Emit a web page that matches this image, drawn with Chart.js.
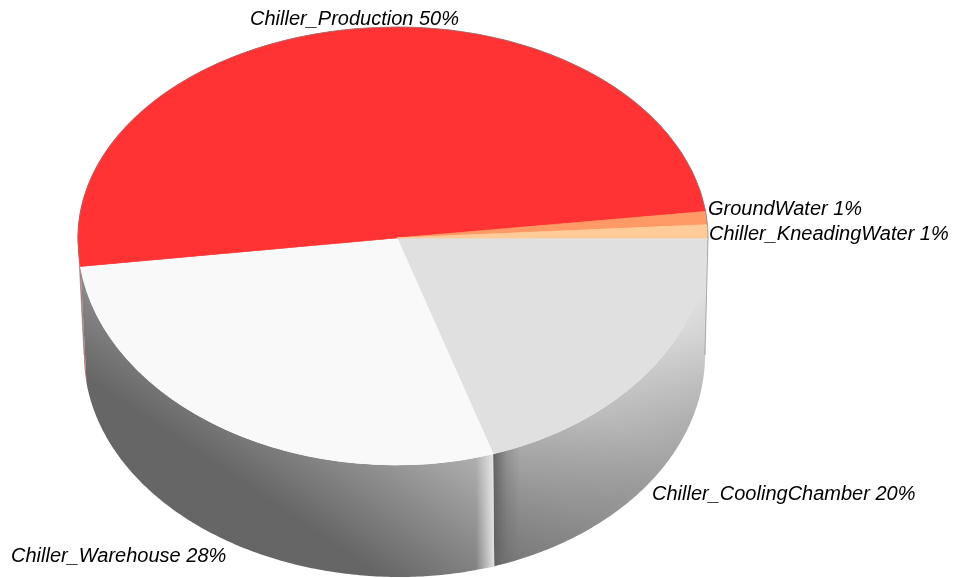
<!DOCTYPE html>
<html>
<head>
<meta charset="utf-8">
<style>
  html, body { margin: 0; background: #fff; }
  #grafica { display: block; }
</style>
<script src="https://cdn.jsdelivr.net/npm/chart.js@4"></script>
</head>
<body>
<canvas id="grafica" width="954" height="578"></canvas>
<script>
// Slices run clockwise starting from the right-hand edge of the disc
const categories = ['Chiller_CoolingChamber', 'Chiller_Warehouse', 'Chiller_Production', 'GroundWater', 'Chiller_KneadingWater'];
const shares = [20, 28, 50, 1, 1];
const sliceColors = ['#e0e0e0', '#f9f9f9', '#ff3333', '#ff9966', '#ffcc99'];

// x, baseline y of each label, same order as categories
const labelSpots = [[652, 500], [11, 562], [250, 25], [708, 215], [709, 240]];

// Disc outline. The apex is off-centre, so each side has its own half axis
const RADIUS = 315;
const top3d = { x: 397, y: 238, left: 319, right: 311, up: 211, down: 227 };
const base3d = { x: 400, y: 355, left: 316, right: 305, down: 222 };

function rimPoint(e, a) {
  const c = Math.cos(a);
  return [e.x + (c >= 0 ? e.right : e.left) * c, e.y + e.down * Math.sin(a)];
}

function linear(ctx, x0, y0, x1, y1, stops) {
  const g = ctx.createLinearGradient(x0, y0, x1, y1);
  stops.forEach(s => g.addColorStop(s[0], s[1]));
  return g;
}

// Side wall shading for each slice (only lower-half slices are visible)
const wallFills = [
  ctx => [
    linear(ctx, 510, 570, 675, 321, [[0, '#7c7c7c'], [0.3, '#a6a6a6'], [0.6, '#c8c8c8'], [1, '#e0e0e0']]),
    linear(ctx, 494, 0, 520, 0, [[0, 'rgba(80,80,80,0.75)'], [0.5, 'rgba(90,90,90,0.25)'], [1, 'rgba(90,90,90,0)']]),
    linear(ctx, 645, 335, 712, 430, [[0, 'rgba(110,110,110,0)'], [1, 'rgba(110,110,110,0.4)']])
  ],
  ctx => [
    linear(ctx, 290, 514, 378, 383, [[0, '#666666'], [1, '#b2b2b2']]),
    linear(ctx, 476, 0, 494, 0, [[0, 'rgba(240,240,240,0)'], [1, 'rgba(240,240,240,0.85)']])
  ],
  () => ['rgba(176,60,70,0.7)']
];

function drawWall(ctx, arc, fills) {
  const from = Math.max(arc.startAngle, 0);
  const to = Math.min(arc.endAngle, Math.PI);
  if (to <= from) return;
  const steps = Math.ceil((to - from) * 90);
  ctx.beginPath();
  for (let i = 0; i <= steps; i++) {
    const p = rimPoint(top3d, from + (to - from) * i / steps);
    i ? ctx.lineTo(p[0], p[1]) : ctx.moveTo(p[0], p[1]);
  }
  for (let i = steps; i >= 0; i--) {
    const p = rimPoint(base3d, from + (to - from) * i / steps);
    ctx.lineTo(p[0], p[1]);
  }
  ctx.closePath();
  fills.forEach(f => { ctx.fillStyle = f; ctx.fill(); });
}

const pie3d = {
  id: 'pie3d',
  beforeDatasetsDraw(chart) {
    const ctx = chart.ctx;
    const meta = chart.getDatasetMeta(0);
    const { x: cx, y: cy } = meta.data[0];

    meta.data.forEach((arc, i) => {
      if (wallFills[i]) drawWall(ctx, arc, wallFills[i](ctx));
    });

    // The library draws the flat pie once per quadrant, each with its own squash
    const quads = [
      [0, 0, cx, cy, top3d.left, top3d.up],
      [cx, 0, 954 - cx, cy, top3d.right, top3d.up],
      [0, cy, cx, 578 - cy, top3d.left, top3d.down],
      [cx, cy, 954 - cx, 578 - cy, top3d.right, top3d.down]
    ];
    quads.forEach(q => {
      ctx.save();
      ctx.beginPath();
      ctx.rect(q[0], q[1], q[2], q[3]);
      ctx.clip();
      ctx.translate(cx, cy);
      ctx.scale(q[4] / RADIUS, q[5] / RADIUS);
      ctx.translate(-cx, -cy);
      meta.controller.draw();
      ctx.restore();
    });

    // Thin grey rim round the back and down the sides
    ctx.strokeStyle = 'rgba(125,125,125,0.6)';
    ctx.lineWidth = 1;
    ctx.beginPath();
    ctx.ellipse(cx, cy, top3d.left, top3d.up, 0, Math.PI, 1.5 * Math.PI);
    ctx.ellipse(cx, cy, top3d.right, top3d.up, 0, 1.5 * Math.PI, 2 * Math.PI);
    ctx.lineTo(base3d.x + base3d.right, base3d.y);
    ctx.stroke();
    ctx.beginPath();
    ctx.moveTo(cx - top3d.left, cy);
    ctx.lineTo(base3d.x - base3d.left, base3d.y);
    ctx.stroke();
    return false;
  },
  afterDraw(chart) {
    const ctx = chart.ctx;
    ctx.fillStyle = '#000';
    ctx.font = 'italic 20px "Liberation Sans", Arial, sans-serif';
    ctx.textBaseline = 'alphabetic';
    categories.forEach((name, i) => {
      ctx.fillText(name + ' ' + shares[i] + '%', labelSpots[i][0], labelSpots[i][1]);
    });
  }
};

new Chart(document.getElementById('grafica'), {
  type: 'pie',
  data: {
    labels: categories,
    datasets: [{
      data: shares,
      backgroundColor: sliceColors,
      borderColor: sliceColors,
      borderWidth: 1,
      radius: RADIUS
    }]
  },
  options: {
    responsive: false,
    animation: false,
    rotation: 90,
    layout: { padding: { right: 954 - 2 * top3d.x, bottom: 578 - 2 * top3d.y } },
    plugins: { legend: { display: false }, tooltip: { enabled: false } }
  },
  plugins: [pie3d]
});
</script>
</body>
</html>
